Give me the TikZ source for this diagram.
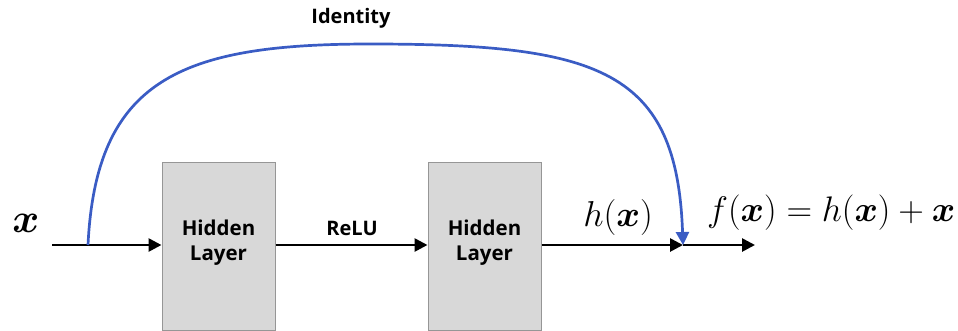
\documentclass[tikz,border=0pt]{standalone}
\usepackage{fix-cm}
\usepackage{amsmath,bm}
\usepackage{fontspec}
\setsansfont{Open Sans}
\usetikzlibrary{arrows.meta, positioning}
\definecolor{boxgray}{RGB}{216,216,216}
\definecolor{boxline}{RGB}{150,150,150}
\definecolor{skipblue}{RGB}{58,92,196}

\begin{document}
\begin{tikzpicture}[x=1pt, y=-1pt,
		layer/.style={draw=boxline, line width=1pt, fill=boxgray, minimum width=113pt, minimum height=168pt,
			inner sep=0pt, align=center, text depth=11pt, font=\sffamily\bfseries\fontsize{20.5}{25}\selectfont},
		lbl/.style={inner sep=0pt, font=\sffamily\bfseries\fontsize{20}{24}\selectfont},
		flow/.style={line width=2.7pt, -{Triangle[length=13pt,width=13pt]}},
		skip/.style={line width=2.7pt, draw=skipblue, -{Triangle[length=13pt,width=13pt]}, skipblue}]
		\useasboundingbox (0,0) rectangle (958,330);
		
		\node[layer] (hid1) at (218.5,246) {Hidden\\Layer};
		\node[layer] (hid2) at (484.5,246) {Hidden\\Layer};
		\coordinate (in) at (52,245);
		\coordinate (split) at (88,245);
		\coordinate (sum) at (683,245);
		\coordinate (out) at (755,245);
		
		\node[inner sep=0pt, anchor=base, font=\fontsize{41}{44}\selectfont] (xin) at (26,232) {$\bm{x}$};
		\node[inner sep=0pt, anchor=base, font=\fontsize{36}{40}\selectfont] (hx) at (618,226) {$h(\bm{x})$};
		\node[inner sep=0pt, anchor=base west, font=\fontsize{35.5}{40}\selectfont] (fx) at (707,221) {$f(\bm{x}) = h(\bm{x}) + \bm{x}$};
		\node[lbl] (relu) at (352,228) {ReLU};
		\node[lbl] (ident) at (351,18) {Identity};
		
		\draw[line width=2.7pt] (in) -- (split);
		\draw[flow] (split) -- (hid1.west |- split);
		\draw[flow] (hid1.east |- split) -- (hid2.west |- split);
		\draw[flow] (hid2.east |- split) -- (sum);
		\draw[flow] (sum) -- (out);
		
		\draw[skip] (split) .. controls (96,80) and (180,44) .. (370,44)
			.. controls (600,44) and (677,70) .. (sum);
	\end{tikzpicture}
\end{document}
